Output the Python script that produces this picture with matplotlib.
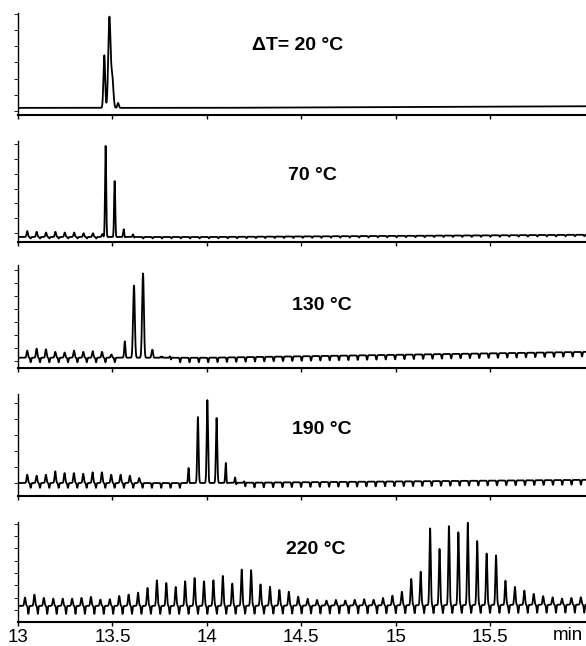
import numpy as np
import matplotlib
matplotlib.use("Agg")
import matplotlib.pyplot as plt

plt.rcParams['font.family'] = ['Liberation Sans', 'DejaVu Sans']

# retention time axis (min)
x_ticks = [13, 13.5, 14, 14.5, 15, 15.5]
x_ticklabels = ["13", "13.5", "14", "14.5", "15", "15.5"]

labels = ["\u0394T= 20 \u00b0C", "70 \u00b0C", "130 \u00b0C", "190 \u00b0C", "220 \u00b0C"]

# main peaks of each trace: time (min), height above baseline, width (sigma, min)
p1_t = [13.457, 13.484, 13.499, 13.530]
p1_h = [3.25, 5.55, 1.9, 0.3]
p1_w = [0.0045, 0.006, 0.006, 0.004]

p2_t = [13.464, 13.512, 13.560, 13.610]
p2_h = [6.25, 3.85, 0.55, 0.2]
p2_w = [0.003, 0.003, 0.003, 0.003]

p3_t = [13.565, 13.614, 13.662, 13.711, 13.760, 13.808]
p3_h = [1.4, 5.75, 6.8, 0.95, 0.35, 0.25]
p3_w = [0.0035, 0.0045, 0.0045, 0.0035, 0.0035, 0.0035]

p4_t = [13.904, 13.953, 14.003, 14.052, 14.101, 14.151, 14.200]
p4_h = [1.08, 4.25, 5.35, 4.2, 1.35, 0.45, 0.15]
p4_w = [0.003, 0.0035, 0.0035, 0.0035, 0.003, 0.003, 0.003]

# small modulated peaks: first time, modulation period, heights
m1_start, m1_period, m1_h = 13.049, 0.0497, []
m2_start, m2_period, m2_h = 13.049, 0.0497, [0.4, 0.35, 0.3, 0.35, 0.3, 0.3, 0.25, 0.25, 0.2]
m3_start, m3_period, m3_h = 13.049, 0.0495, [0.55, 0.7, 0.65, 0.45, 0.4, 0.55, 0.45, 0.5, 0.45, 0.25]
m4_start, m4_period, m4_h = 13.049, 0.0494, [0.52, 0.46, 0.52, 0.73, 0.62, 0.62, 0.58, 0.67,
                                             0.67, 0.52, 0.52, 0.46, 0.31]
m5_start, m5_period = 13.037, 0.0499
m5_h = [0.68, 0.92, 0.65, 0.59, 0.59, 0.59, 0.65, 0.73, 0.51, 0.54,
        0.81, 0.92, 1.08, 1.46, 2.08, 1.86, 1.54, 2.0, 2.27, 2.0,
        2.08, 2.43, 1.81, 2.95, 2.89, 1.73, 1.54, 1.27, 1.14, 0.73,
        0.55, 0.45, 0.4, 0.45, 0.4, 0.45, 0.5, 0.45, 0.6,
        0.78, 1.1, 2.14, 2.73, 6.24, 4.57, 6.43, 5.92, 6.7, 5.2,
        4.19, 4.03, 1.97, 1.46, 1.16, 0.89, 0.7, 0.6, 0.5, 0.55, 0.6]

# baseline level, drift over the run and depth of the modulation dips
base = [0.19, -0.27, 0.25, 0.0, 0.33]
drift = [0.1, 0.15, 0.45, 0.2, 0.1]
dip_depth = [0.0, 0.1, 0.35, 0.3, 0.65]

# y-limits (in units of the left tick spacing) and tick counts
ylims = [(-0.25, 6.05), (-0.61, 6.22), (-0.54, 7.38), (-0.81, 5.56), (-0.98, 7.15)]
nticks = [7, 7, 8, 6, 8]
# panel top / bottom in pixels
tops = [13, 141, 265, 394, 522]
bottoms = [115, 242, 368, 496, 622]
label_xy = [(298, 45), (312, 175), (322, 306), (322, 430), (316, 550)]

W, H = 586, 646
t = np.linspace(13, 16.05, 9000)


def peaks(times, heights, widths):
    y = np.zeros_like(t)
    for c, h, w in zip(times, heights, widths):
        y += h * np.exp(-0.5 * ((t - c) / w) ** 2)
    return y


def trace(i, pt, ph, pw, ms, mp, mh):
    y = base[i] + drift[i] * np.clip((t - 14.0) / 2.0, 0, 1)
    y = y + peaks(pt, ph, pw)
    mt = [ms + k * mp for k in range(len(mh))]
    y = y + peaks(mt, mh, [0.0035] * len(mh))
    if dip_depth[i] > 0:
        dips = np.arange(ms + 0.018, 16.05, mp)
        y = y - peaks(dips, [dip_depth[i]] * len(dips), [0.0025] * len(dips))
    return y


traces = [
    trace(0, p1_t, p1_h, p1_w, m1_start, m1_period, m1_h),
    trace(1, p2_t, p2_h, p2_w, m2_start, m2_period, m2_h),
    trace(2, p3_t, p3_h, p3_w, m3_start, m3_period, m3_h),
    trace(3, p4_t, p4_h, p4_w, m4_start, m4_period, m4_h),
    trace(4, [], [], [], m5_start, m5_period, m5_h),
]

fig = plt.figure(figsize=(W / 100, H / 100), dpi=100)
left = 18 / W
xmax = 13 + (W - 18) / 188.8

for i in range(5):
    ax = fig.add_axes([left, 1 - bottoms[i] / H, 1 - left, (bottoms[i] - tops[i]) / H])
    ax.plot(t, traces[i], color='black', lw=1.3)
    ax.set_xlim(13, xmax)
    ax.set_ylim(*ylims[i])
    ax.set_yticks(range(nticks[i]))
    ax.set_yticklabels([])
    ax.set_xticks(x_ticks)
    if i == 4:
        ax.set_xticklabels(x_ticklabels, fontsize=13.5)
    else:
        ax.set_xticklabels([])
    for s in ['top', 'right']:
        ax.spines[s].set_visible(False)
    ax.spines['left'].set_linewidth(1.0)
    ax.spines['bottom'].set_linewidth(1.5)
    ax.tick_params(axis='y', direction='out', length=3, width=0.6)
    ax.tick_params(axis='x', direction='out', length=3, width=1.0, pad=2)
    ax.patch.set_alpha(0)
    fig.text(label_xy[i][0] / W, 1 - label_xy[i][1] / H, labels[i],
             fontsize=14, fontweight='bold', ha='center', va='center')

fig.text(568 / W, 1 - 636 / H, "min", fontsize=13.5, ha='center', va='center')

fig.savefig("out.png", dpi=100)
